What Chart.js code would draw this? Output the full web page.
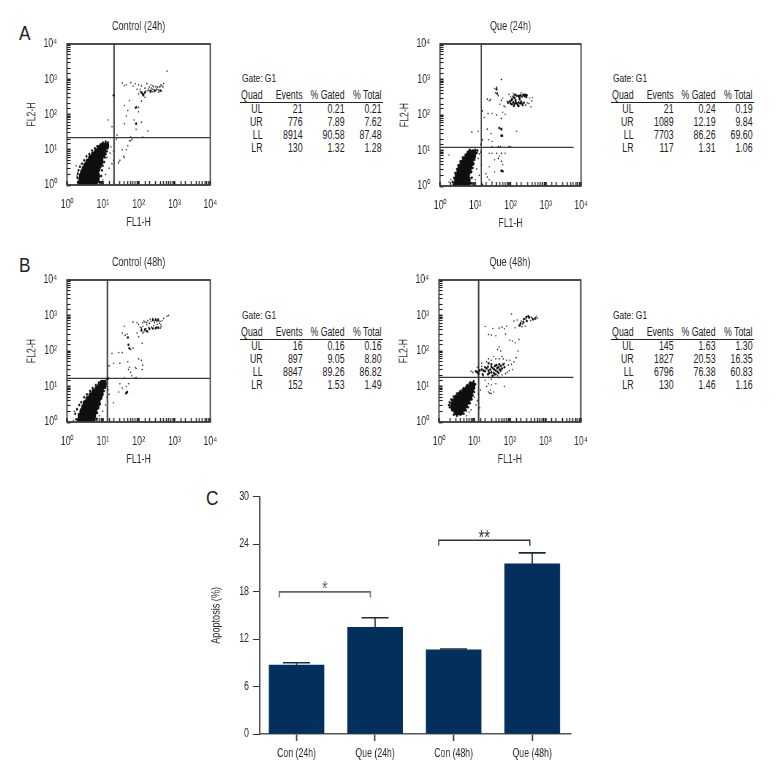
<!DOCTYPE html>
<html>
<head>
<meta charset="utf-8">
<script src="https://cdn.jsdelivr.net/npm/chart.js@4/dist/chart.umd.min.js"></script>
<style>
  html, body { margin: 0; padding: 0; background: #fff; }
  body { position: relative; width: 780px; height: 780px; overflow: hidden; font-family: "Liberation Sans", sans-serif; color: #222; }
  canvas { position: absolute; transform-origin: 0 0; transform: scaleX(0.73); }
  .letter { position: absolute; font-size: 21px; line-height: 21px; color: #222; transform-origin: 0 0; transform: scaleX(0.82); }
  .gate { position: absolute; font-size: 11.5px; line-height: 13px; transform-origin: 0 0; transform: scaleX(0.73); }
  table.stats { position: absolute; border-collapse: collapse; font-size: 12px; line-height: 13px; table-layout: fixed; transform-origin: 0 0; transform: scaleX(0.73); }
  table.stats td, table.stats th { padding: 0 2px 0 0; text-align: right; font-weight: normal; height: 13px; white-space: nowrap; }
  table.stats th { border-bottom: 1px solid #222; height: 14px; }
</style>
</head>
<body>
<div class="letter" style="left:19px;top:22px">A</div>
<div class="letter" style="left:19px;top:254px">B</div>
<div class="letter" style="left:206px;top:487px">C</div>
<canvas id="facsA1"></canvas>
<canvas id="facsA2"></canvas>
<canvas id="facsB1"></canvas>
<canvas id="facsB2"></canvas>
<canvas id="barChart"></canvas>

<script>
// ===== Flow cytometry data (FL1-H, FL2-H) =====
const decadeLabels = { 1: "10⁰", 10: "10¹", 100: "10²", 1000: "10³", 10000: "10⁴" };

// core blobs are written as rows: [FL2-H, [FL1-H, ...]]
const a1Core = [[1.1,[2.3,2.7,3.2,3.8,4.5,5.3,6.2]],[1.4,[2.4,2.9,3.5,4.2,5,6,7]],[1.8,[2.5,3,3.6,4.3,5.2,6.2,7.2]],[2.3,[2.7,3.3,4,4.8,5.8,6.8]],[2.9,[3,3.6,4.3,5.2,6.2,7.4]],[3.6,[3.3,4,4.8,5.7,6.8,8]],[4.6,[3.8,4.6,5.5,6.5,7.8,9]],[5.8,[4.5,5.4,6.4,7.6,9]],[7.2,[5.4,6.4,7.6,9,10]],[9,[6.6,7.8,9.2,10.5]],[11,[8,9.4,11]],[13,[10,11.5,13]]];
const a1Clump = [[130,380],[135,350],[120,420],[150,420],[220,470],[280,480],[400,480],[85,160],[85,55],[20,350],[2,1.2],[1.95,1.6],[2,2.1],[2.1,2.6],[2.3,3.3],[2.6,4],[3,5],[3.5,6.5],[4.2,7.5],[5,9.5],[6,11],[7,12.5],[8.5,14],[10,16],[12,17],[14,16],[8.5,1.2],[9,1.8],[9.5,2.6],[10,3.5],[11,4.5],[11.5,6],[12,7.5],[13,9],[13.5,11]];
const a1Sparse = [[140,370],[180,480],[200,470],[250,520],[300,470],[350,500],[450,650],[420,700],[380,600],[300,620],[250,650],[220,700],[200,600],[170,750],[120,650],[100,700],[80,750],[60,800],[40,650],[35,780],[620,1700],[100,160],[80,150],[55,250],[40,180],[50,130],[120,240],[100,120],[45,90],[18,45],[14,70],[25,26],[24,20],[60,23],[55,18],[65,20],[130,23],[180,34],[85,38],[40,55],[75,70],[120,60],[40,6],[38,6.5],[30,5],[28,4.5],[27,4.2],[45,10],[35,10],[50,13],[60,18],[15,3],[18,4],[13,6],[16,8],[20,9],[17,12],[12,2],[8,1.7],[10,1.4],[20,5],[1.8,3.5],[1.9,1.8],[110,520],[150,560],[190,540],[230,560],[260,600],[320,560],[340,600],[400,620],[270,440],[310,500],[360,430],[430,460],[480,600],[160,460],[210,420],[240,440],[110,450],[90,520],[70,640],[45,700],[500,760],[100,380],[150,310]];
const a2Core = [[1.1,[2.8,3.3,3.9,4.6,5.4,6.2]],[1.5,[2.9,3.4,4,4.7,5.6,6.4]],[2,[3.1,3.7,4.4,5.2,6]],[2.6,[3.4,4,4.8,5.6,6.6]],[3.4,[3.7,4.4,5.2,6.1,7]],[4.4,[4.2,5,5.9,6.9,7.8]],[5.6,[4.9,5.8,6.8,7.8]],[7,[6,7,8,9]],[8.6,[7,8,9.2]]];
const a2Clump = [[85,220],[100,210],[120,230],[130,205],[150,215],[170,225],[190,215],[210,210],[110,280],[130,300],[150,350],[170,340],[190,360],[230,370],[260,370],[290,360],[140,260],[180,280],[125,180],[170,180],[40,530],[42,400],[55,26],[58,26],[48,43],[55,40],[55,2.7],[60,2.6],[2.4,1.1],[2.3,1.3],[2.5,1.7],[2.7,2.3],[3,3],[3.3,3.8],[3.8,5],[4.4,6.3],[5.2,7.5],[6,9],[7,10.5],[8.5,10],[10,10.5],[7.6,1.2],[8,1.7],[7.8,2.5],[8.5,3.2],[9,4.2],[9.5,5.5],[10,7],[11,8.5],[11.5,10],[95,240],[110,200],[140,230],[160,190],[200,240],[220,190],[240,220],[120,330],[135,370],[180,310],[210,330],[250,340],[280,320],[105,260]];
const a2Sparse = [[100,330],[90,380],[120,400],[200,420],[350,300],[420,310],[400,250],[330,210],[300,220],[270,190],[380,170],[60,300],[55,260],[50,200],[65,180],[70,170],[80,240],[45,350],[38,420],[35,560],[40,600],[55,1000],[25,250],[22,280],[27,270],[16,130],[18,85],[12,35],[8,33],[22,40],[28,30],[24,20],[30,18],[70,105],[40,100],[30,110],[23,110],[55,80],[60,120],[150,35],[16,20],[14,15],[45,13],[52,13],[90,13],[100,13],[30,13],[40,8.3],[55,8.3],[70,8.3],[25,8.3],[30,8.3],[35,5.5],[45,6],[55,5],[48,7],[25,3.5],[20,2.2],[22,1.8],[25,1.5],[30,1.3],[60,4],[35,2.5],[1.8,7.5],[1.8,1.3],[2,1.5],[12,6],[13,8],[15,4],[11,3],[13,2],[10,1.5],[9,1.2],[16,1.1],[14,9],[11,10]];
const b1Core = [[1.1,[2.2,2.6,3.1,3.7,4.4,5.2]],[1.5,[2.3,2.8,3.4,4,4.8,5.6]],[2,[2.6,3.1,3.7,4.4,5.2,6]],[2.6,[2.9,3.5,4.2,5,5.9,6.6]],[3.4,[3.2,3.9,4.7,5.6,6.6,7.4]],[4.4,[3.8,4.6,5.5,6.5,7.6]],[5.6,[4.6,5.5,6.5,7.6,8.6]],[7,[5.6,6.6,7.7,9]],[8.6,[6.8,8,9.2]],[10.5,[8.2,9.6,10.6]],[12.5,[9.6,11]]];
const b1Clump = [[13,16],[14,17],[120,380],[150,400],[200,420],[250,430],[300,440],[350,450],[250,750],[300,760],[350,740],[50,240],[52,150],[55,120],[170,360],[45,6.5],[48,7],[1.8,1.2],[1.7,1.7],[1.9,2.3],[2.2,3],[2.5,3.6],[3,5],[3.6,6],[4.4,7.5],[5.2,9],[6.4,11],[7.8,13],[9,14],[6.6,1.2],[7,1.8],[7.6,2.5],[8.4,3.2],[9,4.5],[10,6],[10.8,7.5],[11.5,9.5],[12,11.5]];
const b1Sparse = [[130,320],[140,340],[180,350],[130,500],[170,550],[200,600],[150,650],[140,700],[180,720],[220,680],[280,620],[380,600],[420,550],[450,720],[500,830],[620,950],[680,1000],[400,680],[90,630],[70,650],[40,500],[35,320],[42,280],[48,300],[90,320],[100,250],[60,110],[70,120],[125,165],[35,90],[28,90],[18,85],[15,38],[20,45],[30,45],[50,50],[55,35],[52,30],[80,35],[85,32],[125,30],[130,40],[120,55],[100,60],[60,25],[65,20],[75,17],[85,18],[40,17],[30,12],[35,9],[45,10],[52,12],[28,7],[20,3.5],[13,5],[15,6],[14,8],[12,9],[10,2],[8,1.5],[7,1.3],[12,3],[13,10],[1.6,2],[1.5,1.1],[160,420],[190,460],[230,470],[260,520],[320,480],[330,560],[280,700],[320,680],[350,800],[250,820],[210,790],[170,640],[120,440],[110,470],[100,560],[130,620],[400,440],[420,480],[300,800]];
const b2Core = [[1.9,[3,3.6,4.2]],[2.4,[2.5,3,3.6,4.3,5]],[3,[2.4,2.9,3.5,4.2,5,5.6]],[3.8,[2.6,3.2,3.9,4.7,5.6,6.4]],[4.8,[3.1,3.8,4.6,5.5,6.5,7.4]],[6,[3.9,4.7,5.6,6.6,7.6]],[7.5,[5,6,7.1,8.2]],[9,[6.3,7.4,8.6]],[11,[7.8,9]]];
const b2Clump = [[11,27],[12,25],[14,28],[13,23],[16,30],[18,28],[20,27],[22,32],[25,28],[28,30],[30,25],[33,33],[36,30],[40,28],[44,33],[48,35],[52,30],[56,38],[60,32],[24,22],[30,36],[38,38],[45,26],[35,24],[17,22],[20,35],[24,36],[26,24],[32,20],[38,22],[42,40],[50,42],[55,28],[70,35],[48,24],[30,42],[25,45],[65,42],[250,800],[290,900],[330,950],[300,700],[240,650],[200,600],[350,880],[450,780],[520,820],[190,520],[2,2.6],[1.9,3],[2,3.6],[2.2,4.3],[2.6,5.2],[3.2,6.3],[4,7.5],[5,9],[6.2,11],[7.5,13],[9.5,14],[2.6,1.6],[3.2,1.5],[4,1.6],[5,1.7],[5.8,2.1],[6.6,2.6],[7.4,3.4],[8.4,4.4],[9,5.6],[9.8,7],[10,9],[10.5,11.5]];
const b2Sparse = [[110,1100],[130,700],[160,750],[270,500],[220,480],[180,530],[550,950],[600,850],[420,850],[120,190],[140,170],[180,210],[100,200],[80,500],[70,420],[60,470],[20,490],[33,430],[50,440],[25,290],[30,280],[40,270],[75,300],[50,130],[45,110],[55,100],[35,70],[25,60],[22,50],[30,55],[50,60],[65,60],[70,45],[90,40],[110,42],[130,50],[150,65],[170,100],[120,30],[95,28],[85,25],[75,23],[9,25],[8,27],[60,21],[45,20],[35,20],[25,18],[18,20],[20,15],[25,12],[30,11],[40,12],[70,10],[22,10],[25,7],[27,6.5],[30,6.3],[35,7],[28,8],[15,8],[13,6],[12,4],[14,2.5],[10,5],[11,3],[8,2.2],[7,1.9],[6,1.5],[10,10],[9,12],[8,13],[230,570],[210,700],[280,800],[380,720],[400,900],[140,450],[16,45],[40,60],[60,70],[80,55],[100,55],[42,22],[30,16],[50,18],[12,35],[16,37]];

// ===== Gate stats tables =====
const quadNames = ["UL", "UR", "LL", "LR"];
const tableHeaders = ["Quad", "Events", "% Gated", "% Total"];
const a1Events = ["21", "776", "8914", "130"];
const a1Gated = ["0.21", "7.89", "90.58", "1.32"];
const a1Total = ["0.21", "7.62", "87.48", "1.28"];
const a2Events = ["21", "1089", "7703", "117"];
const a2Gated = ["0.24", "12.19", "86.26", "1.31"];
const a2Total = ["0.19", "9.84", "69.60", "1.06"];
const b1Events = ["16", "897", "8847", "152"];
const b1Gated = ["0.16", "9.05", "89.26", "1.53"];
const b1Total = ["0.16", "8.80", "86.82", "1.49"];
const b2Events = ["145", "1827", "6796", "130"];
const b2Gated = ["1.63", "20.53", "76.38", "1.46"];
const b2Total = ["1.30", "16.35", "60.83", "1.16"];

// ===== Bar chart data =====
const barLabels = ["Con (24h)", "Que (24h)", "Con (48h)", "Que (48h)"];
const barValues = [8.7, 13.5, 10.65, 21.5];
const barErrors = [0.3, 1.2, 0.1, 1.4];
const yTicks = [0, 6, 12, 18, 24, 30];
const brackets = [
  { from: -0.22, to: 0.94, y: 17.96, drop: 0.7, label: "*", color: "#666" },
  { from: 1.81, to: 2.97, y: 24.5, drop: 0.7, label: "**", color: "#333" },
];

// no condensed font is installed, so the canvases are drawn wide and squeezed by CSS
const NARROW = 0.73;
const FONT = '"Liberation Sans", sans-serif';
const INK = "#2b2b2b";

function sizeCanvas(canvas, left, top, width, height) {
  canvas.width = Math.round(width / NARROW);
  canvas.height = height;
  canvas.style.left = left + "px";
  canvas.style.top = top + "px";
}

// y title keeps the narrow look when rotated: undo the squeeze, rotate, squeeze along the text
function drawYTitle(chart, text, dx, size) {
  const { ctx, chartArea: a } = chart;
  ctx.save();
  ctx.translate(a.left - dx / NARROW, (a.top + a.bottom) / 2);
  ctx.scale(1 / NARROW, 1);
  ctx.rotate(-Math.PI / 2);
  ctx.scale(NARROW, 1);
  ctx.fillStyle = INK;
  ctx.font = size + "px " + FONT;
  ctx.textAlign = "center";
  ctx.textBaseline = "middle";
  ctx.fillText(text, 0, 0);
  ctx.restore();
}

// ===== Frame, panel title, y title =====
const panelPlugin = {
  id: "panel",
  afterDatasetsDraw(chart, args, opts) {
    const { ctx, chartArea: a } = chart;
    ctx.save();
    ctx.strokeStyle = "#3a3a3a";
    ctx.lineWidth = 1.8;
    ctx.strokeRect(a.left, a.top, a.right - a.left, a.bottom - a.top);
    ctx.fillStyle = INK;
    ctx.font = "12.5px " + FONT;
    ctx.textAlign = "center";
    ctx.textBaseline = "middle";
    ctx.fillText(opts.title, (a.left + a.right) / 2, a.top - 17);
    ctx.restore();
    drawYTitle(chart, "FL2-H", 35, 12);
  },
};

function toPoints(list) {
  return list.map((p) => ({ x: p[0], y: p[1] }));
}

function rowsToPoints(rows) {
  const pts = [];
  rows.forEach((row) => row[1].forEach((x) => pts.push({ x: x, y: row[0] })));
  return pts;
}

function makeFacs(id, title, plotL, plotT, plotW, plotH, gateX, gateY, gateEnd, core, clump, sparse) {
  const canvas = document.getElementById(id);
  sizeCanvas(canvas, plotL - 47, plotT - 26, 47 + plotW + 20, 26 + plotH + 45);
  new Chart(canvas, {
    type: "scatter",
    data: {
      datasets: [
        { data: rowsToPoints(core), pointRadius: 3.2, backgroundColor: "#111", showLine: false },
        { data: toPoints(clump), pointRadius: 1.3, backgroundColor: "#111", showLine: false },
        { data: toPoints(sparse), pointRadius: 0.8, backgroundColor: "#222", showLine: false },
        { data: [{ x: gateX, y: 1 }, { x: gateX, y: 10000 }], showLine: true, pointRadius: 0, borderColor: "#3a3a3a", borderWidth: 2 },
        { data: [{ x: 1, y: gateY }, { x: gateEnd, y: gateY }], showLine: true, pointRadius: 0, borderColor: "#3a3a3a", borderWidth: 1.3 },
      ],
    },
    options: {
      responsive: false,
      animation: false,
      events: [],
      layout: { padding: { top: 26, left: 0, bottom: 0, right: 20 / NARROW } },
      plugins: {
        legend: { display: false },
        tooltip: { enabled: false },
        panel: { title: title },
      },
      scales: {
        x: axisOptions(16, -4, 1.2, (s) => { s.height = 45; }, { display: true, text: "FL1-H", color: INK, font: { family: FONT, size: 12 }, padding: { top: 0, bottom: 0 } }),
        y: axisOptions(10 / NARROW + 5, -5, 0.85, (s) => { s.width = 47 / NARROW; }, { display: false }),
      },
    },
    plugins: [panelPlugin],
  });
}

function axisOptions(pad, tick, widthScale, fit, title) {
  return {
    type: "logarithmic",
    min: 1,
    max: 10000,
    afterFit: fit,
    border: { display: false },
    title: title,
    grid: {
      drawOnChartArea: false,
      tickLength: tick,
      color: "#222",
      tickColor: "#222",
      tickWidth: (ctx) => (decadeLabels[ctx.tick.value] ? 2.2 : 1.3) * widthScale,
    },
    ticks: {
      color: INK,
      padding: pad,
      autoSkip: false,
      maxRotation: 0,
      font: { family: FONT, size: 12 },
      callback: (v) => decadeLabels[v] || "",
    },
  };
}

function makeTable(left, top, events, gated, total) {
  const gate = document.createElement("div");
  gate.className = "gate";
  gate.style.left = left + 2 + "px";
  gate.style.top = top + "px";
  gate.textContent = "Gate: G1";
  document.body.appendChild(gate);

  const table = document.createElement("table");
  table.className = "stats";
  table.style.left = left + "px";
  table.style.top = top + 16 + "px";
  const widths = [24, 40, 42, 37].map((w) => w / NARROW);
  table.style.width = widths.reduce((a, b) => a + b, 0) + "px";
  let html = "<colgroup>" + widths.map((w) => `<col style="width:${w}px">`).join("") + "</colgroup><tr>";
  html += tableHeaders.map((h) => `<th>${h}</th>`).join("") + "</tr>";
  quadNames.forEach((q, i) => {
    html += `<tr><td>${q}</td><td>${events[i]}</td><td>${gated[i]}</td><td>${total[i]}</td></tr>`;
  });
  table.innerHTML = html;
  document.body.appendChild(table);
}

// ===== Error bars and significance brackets =====
const barExtras = {
  id: "barExtras",
  afterDatasetsDraw(chart) {
    const { ctx, scales } = chart;
    const cap = 13.5 / NARROW;
    ctx.save();
    ctx.strokeStyle = "#1c2b3a";
    ctx.lineWidth = 1.6;
    barValues.forEach((v, i) => {
      const px = scales.x.getPixelForValue(i);
      const top = scales.y.getPixelForValue(v + barErrors[i]);
      ctx.beginPath();
      ctx.moveTo(px, scales.y.getPixelForValue(v));
      ctx.lineTo(px, top);
      ctx.moveTo(px - cap, top);
      ctx.lineTo(px + cap, top);
      ctx.stroke();
    });
    ctx.textAlign = "center";
    ctx.textBaseline = "middle";
    ctx.font = "20px " + FONT;
    brackets.forEach((b) => {
      const x1 = scales.x.getPixelForValue(b.from);
      const x2 = scales.x.getPixelForValue(b.to);
      const y = scales.y.getPixelForValue(b.y);
      const yd = scales.y.getPixelForValue(b.y - b.drop);
      ctx.strokeStyle = b.color;
      ctx.fillStyle = b.color;
      ctx.beginPath();
      ctx.moveTo(x1, yd);
      ctx.lineTo(x1, y);
      ctx.lineTo(x2, y);
      ctx.lineTo(x2, yd);
      ctx.stroke();
      ctx.fillText(b.label, (x1 + x2) / 2, y - 2);
    });
    ctx.restore();
    drawYTitle(chart, "Apoptosis (%)", 44, 12.5);
  },
};

function makeBar() {
  const canvas = document.getElementById("barChart");
  sizeCanvas(canvas, 205, 484, 375, 280);
  new Chart(canvas, {
    type: "bar",
    data: {
      datasets: [
        {
          data: barLabels.map((c, i) => ({ x: i, y: barValues[i] })),
          backgroundColor: "#022f5c",
          borderColor: "#022f5c",
          barThickness: 55 / NARROW,
        },
      ],
    },
    options: {
      responsive: false,
      animation: false,
      events: [],
      layout: { padding: { top: 8, left: 0, right: 9 / NARROW, bottom: 0 } },
      plugins: { legend: { display: false }, tooltip: { enabled: false } },
      scales: {
        x: {
          type: "linear",
          offset: false,
          min: -0.465,
          max: 3.497,
          afterBuildTicks: (s) => { s.ticks = barLabels.map((c, i) => ({ value: i })); },
          afterFit: (s) => { s.height = 30; },
          border: { color: "#555", width: 1.5 },
          grid: { offset: false, drawOnChartArea: false, tickLength: 7, tickColor: "#333", tickWidth: 1.8 },
          ticks: { color: INK, padding: 5, autoSkip: false, maxRotation: 0, font: { family: FONT, size: 12 }, callback: (v) => barLabels[v] },
        },
        y: {
          min: 0,
          max: 30,
          afterBuildTicks: (s) => { s.ticks = yTicks.map((v) => ({ value: v })); },
          afterFit: (s) => { s.width = 55 / NARROW; },
          border: { color: "#555", width: 2 },
          grid: { drawOnChartArea: false, tickLength: 7 / NARROW, tickColor: "#333" },
          ticks: { color: INK, padding: 4 / NARROW, font: { family: FONT, size: 12 } },
        },
      },
    },
    plugins: [barExtras],
  });
}

// ===== Init =====
makeFacs("facsA1", "Control (24h)", 67, 44, 143, 141, 20.6, 22, 10000, a1Core, a1Clump, a1Sparse);
makeFacs("facsA2", "Que (24h)", 440, 44, 141, 142, 14.8, 12.3, 6200, a2Core, a2Clump, a2Sparse);
makeFacs("facsB1", "Control (48h)", 67, 280, 143, 142, 13.4, 17, 10000, b1Core, b1Clump, b1Sparse);
makeFacs("facsB2", "Que (48h)", 439, 280, 142, 142, 13.1, 18, 6200, b2Core, b2Clump, b2Sparse);
makeBar();
makeTable(240, 72, a1Events, a1Gated, a1Total);
makeTable(611, 72, a2Events, a2Gated, a2Total);
makeTable(240, 309, b1Events, b1Gated, b1Total);
makeTable(611, 309, b2Events, b2Gated, b2Total);
</script>
</body>
</html>
